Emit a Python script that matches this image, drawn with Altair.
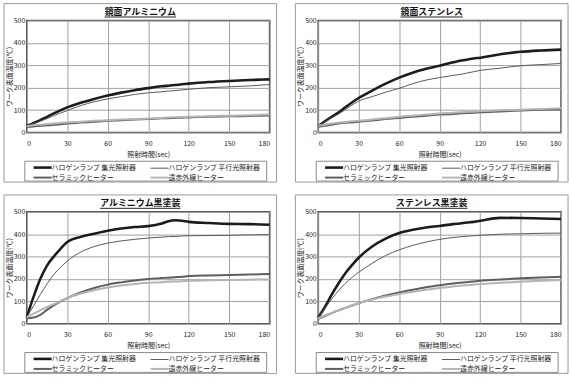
import altair as alt
import pandas as pd

# ---- data -------------------------------------------------------------
# legend fills column by column: col 1 = 集光 / セラミック, col 2 = 平行光 / 遠赤外線
SERIES = ["ハロゲンランプ 集光照射器", "セラミックヒーター", "ハロゲンランプ 平行光照射器", "遠赤外線ヒーター"]
COLORS = ["#1c1c1c", "#5e5e5e", "#585858", "#b4b4b4"]
WIDTHS = [2.6, 2.0, 1.0, 2.0]

TIME = [0, 5, 10, 15, 20, 25, 30, 40, 50, 60, 70, 80, 90, 100, 105, 110, 115, 120, 135, 150, 165, 180]

TITLE_1 = "鏡面アルミニウム"
P1_SHUKO = [30, 42, 55, 70, 85, 99, 112, 133, 150, 165, 178, 189, 198, 206, 209, 212, 215, 218, 225, 230, 234, 237]
P1_HEIKO = [28, 39, 50, 62, 75, 87, 98, 120, 137, 150, 160, 170, 177, 182, 185, 187, 190, 193, 200, 204, 208, 214]
P1_CERAM = [25, 27, 30, 32, 34, 37, 40, 44, 48, 52, 55, 58, 60, 63, 64, 65, 66, 67, 70, 72, 74, 76]
P1_ENSEKI = [28, 32, 35, 38, 40, 43, 45, 48, 52, 55, 58, 60, 62, 65, 67, 68, 69, 70, 73, 75, 77, 80]

TITLE_2 = "鏡面ステンレス"
P2_SHUKO = [28, 50, 70, 89, 112, 134, 154, 187, 218, 245, 267, 284, 298, 313, 320, 325, 330, 334, 349, 360, 366, 370]
P2_HEIKO = [28, 48, 66, 82, 102, 122, 140, 160, 180, 197, 218, 234, 245, 255, 259, 265, 271, 277, 287, 298, 303, 308]
P2_CERAM = [25, 30, 35, 40, 43, 45, 48, 54, 60, 65, 70, 75, 80, 83, 85, 87, 88, 90, 94, 98, 101, 103]
P2_ENSEKI = [30, 35, 40, 44, 47, 50, 52, 58, 64, 70, 75, 80, 85, 88, 90, 92, 93, 95, 99, 102, 105, 108]

TITLE_3 = "アルミニウム黒塗装"
P3_SHUKO = [30, 120, 200, 260, 300, 335, 365, 388, 402, 415, 425, 432, 436, 448, 458, 462, 460, 455, 450, 446, 445, 442]
P3_HEIKO = [30, 80, 130, 178, 220, 252, 280, 320, 345, 360, 370, 377, 383, 387, 389, 390, 392, 393, 394, 395, 397, 398]
P3_CERAM = [25, 28, 40, 62, 82, 100, 115, 140, 160, 175, 185, 193, 200, 204, 206, 208, 210, 213, 216, 218, 220, 222]
P3_ENSEKI = [30, 45, 60, 75, 88, 102, 115, 135, 150, 162, 171, 178, 183, 186, 188, 189, 190, 192, 194, 196, 197, 198]

TITLE_4 = "ステンレス黒塗装"
P4_SHUKO = [28, 75, 130, 180, 225, 262, 295, 345, 380, 405, 420, 430, 437, 445, 448, 452, 455, 460, 473, 472, 470, 468]
P4_HEIKO = [28, 70, 110, 148, 180, 207, 230, 270, 305, 330, 350, 365, 377, 385, 388, 391, 393, 395, 400, 402, 404, 405]
P4_CERAM = [22, 35, 48, 60, 71, 82, 92, 110, 126, 140, 152, 163, 172, 180, 183, 186, 189, 192, 198, 203, 207, 210]
P4_ENSEKI = [25, 37, 49, 60, 71, 82, 92, 108, 122, 133, 143, 152, 160, 167, 170, 172, 175, 177, 183, 188, 192, 195]

X_TICKS = [0, 30, 60, 90, 120, 150, 180]
Y_TICKS = [0, 100, 200, 300, 400, 500]
X_TITLE = "照射時間(sec)"
Y_TITLE = "ワーク表面温度(℃)"

# ---- layout -----------------------------------------------------------
W, H = 245, 113
FONT = "Noto Sans CJK JP"
TITLE_SIZE = 9
# long horizontal stroke drawn around a small nominal symbol size (keeps rows compact)
LEGEND_STROKE = "M-2.6,0L2.6,0"


def legend():
    return alt.Legend(title=None, orient="none", legendX=11, legendY=H + 30,
                      columns=2, columnPadding=9, rowPadding=0,
                      symbolType=LEGEND_STROKE, symbolSize=49, labelOffset=4,
                      labelFontSize=7, labelLimit=300, padding=0)


def panel(title, shuko, heiko, ceram, enseki):
    by_name = {SERIES[0]: shuko, SERIES[1]: ceram, SERIES[2]: heiko, SERIES[3]: enseki}
    rows = []
    for name in SERIES:
        for t, v in zip(TIME, by_name[name]):
            rows.append({"t": t, "v": v, "s": name})
    df = pd.DataFrame(rows)

    lines = alt.Chart(df).mark_line(interpolate="monotone").encode(
        x=alt.X("t:Q", scale=alt.Scale(domain=[0, 180], nice=False),
                axis=alt.Axis(values=X_TICKS, title=X_TITLE)),
        y=alt.Y("v:Q", scale=alt.Scale(domain=[0, 500], nice=False),
                axis=alt.Axis(values=Y_TICKS, title=Y_TITLE)),
        color=alt.Color("s:N", scale=alt.Scale(type="ordinal", domain=SERIES, range=COLORS),
                        legend=legend()),
        strokeWidth=alt.StrokeWidth("s:N", scale=alt.Scale(type="ordinal", domain=SERIES, range=WIDTHS),
                                    legend=legend()),
    )

    one = pd.DataFrame({"a": [0]})
    border = alt.Chart(one).mark_rect(fill="white", fillOpacity=0, stroke="#9a9a9a",
                                      strokeWidth=1, strokeOpacity=1).encode(
        x=alt.value(-23), x2=alt.value(W + 7), y=alt.value(-17), y2=alt.value(H + 50))
    legend_box = alt.Chart(one).mark_rect(fill="white", fillOpacity=0, stroke="#8a8a8a",
                                          strokeWidth=1, strokeOpacity=1).encode(
        x=alt.value(-2), x2=alt.value(W - 3), y=alt.value(H + 29), y2=alt.value(H + 49))
    cx = (W - 16) / 2
    half = len(title) * TITLE_SIZE / 2
    title_text = alt.Chart(one).mark_text(font=FONT, fontSize=TITLE_SIZE, fontWeight="bold",
                                          color="#111", baseline="middle", align="center").encode(
        x=alt.value(cx), y=alt.value(-9), text=alt.value(title))
    underline = alt.Chart(one).mark_rule(stroke="#222", strokeWidth=1).encode(
        x=alt.value(cx - half), x2=alt.value(cx + half), y=alt.value(-3.5))

    return alt.layer(border, legend_box, title_text, underline, lines).properties(width=W, height=H)


p1 = panel(TITLE_1, P1_SHUKO, P1_HEIKO, P1_CERAM, P1_ENSEKI)
p2 = panel(TITLE_2, P2_SHUKO, P2_HEIKO, P2_CERAM, P2_ENSEKI)
p3 = panel(TITLE_3, P3_SHUKO, P3_HEIKO, P3_CERAM, P3_ENSEKI)
p4 = panel(TITLE_4, P4_SHUKO, P4_HEIKO, P4_CERAM, P4_ENSEKI)


def indep(c):
    return c.resolve_scale(color="independent", strokeWidth="independent").resolve_legend(
        color="independent", strokeWidth="independent")


row1 = indep(alt.hconcat(p1, p2, spacing=15))
row2 = indep(alt.hconcat(p3, p4, spacing=15))
chart = indep(alt.vconcat(row1, row2, spacing=9)).properties(
    padding={"left": 2, "top": 0, "right": 0, "bottom": 0},
    background="white",
).configure_view(
    stroke="#4a4a4a", strokeWidth=1.6, fill="white"
).configure_axis(
    domain=False, ticks=False, grid=True, gridColor="#a0a0a0", gridWidth=1,
    labelFont=FONT, labelFontSize=7, labelColor="#222",
    titleFont=FONT, titleFontSize=7, titleFontWeight="normal", titleColor="#222",
    minExtent=0,
).configure_axisX(labelPadding=7, titlePadding=4).configure_axisY(
    labelPadding=2, titlePadding=1
).configure_legend(
    labelFont=FONT, labelColor="#222"
)

chart.save("out.html", embed_options={"renderer": "svg", "actions": False})
